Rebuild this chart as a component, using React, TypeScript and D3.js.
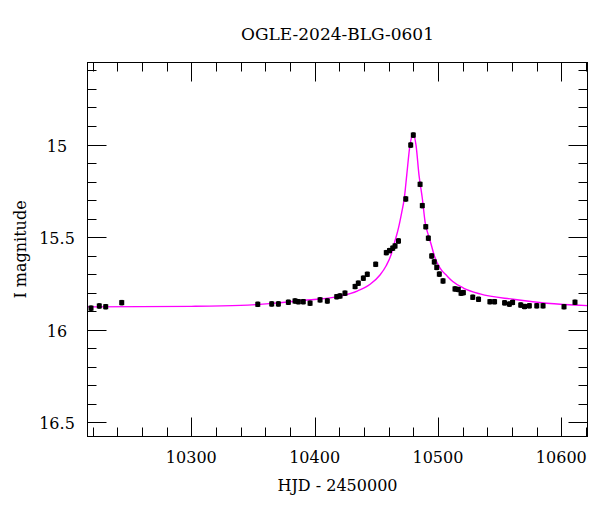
import React from "react";
import * as d3 from "d3";

// Observed photometry (HJD - 2450000, I mag)
const hjd = [
  10218.7, 10225.4, 10230.6, 10243.6, 10353.9, 10365.2, 10370.6, 10378.7, 10384.1, 10386.8,
  10390.8, 10396.3, 10404.4, 10410.3, 10417.9, 10420.6, 10424.6, 10432.8, 10435.4, 10439.5,
  10442.7, 10449.5, 10458.1, 10460.7, 10463.3, 10465.2, 10468.0, 10473.9, 10477.9, 10480.0,
  10485.5, 10487.3, 10490.1, 10492.2, 10494.9, 10497.0, 10499.0, 10501.1, 10504.1, 10513.8,
  10516.5, 10518.7, 10520.6, 10528.2, 10532.9, 10542.1, 10545.9, 10554.0, 10557.9, 10560.5,
  10567.1, 10570.2, 10574.1, 10580.1, 10585.2, 10602.2, 10611.1,
];
const mag = [
  15.884, 15.872, 15.876, 15.854, 15.863, 15.861, 15.861, 15.852, 15.845, 15.849,
  15.849, 15.857, 15.839, 15.845, 15.822, 15.818, 15.803, 15.767, 15.749, 15.722,
  15.701, 15.647, 15.584, 15.573, 15.560, 15.548, 15.521, 15.294, 15.003, 14.949,
  15.215, 15.330, 15.444, 15.506, 15.602, 15.634, 15.664, 15.700, 15.737, 15.780,
  15.783, 15.803, 15.800, 15.825, 15.836, 15.849, 15.849, 15.855, 15.862, 15.853,
  15.867, 15.875, 15.871, 15.871, 15.871, 15.876, 15.852,
];
const magErr = 0.012;

// Model curve
const modelHjd = [
  10215.8, 10300, 10340, 10366, 10394, 10420, 10435, 10445, 10453, 10458,
  10462, 10465, 10468, 10470.5, 10472.7, 10474.7, 10477.3, 10480, 10482.2, 10484.6,
  10487.3, 10489.6, 10492.2, 10494.5, 10497, 10501.7, 10507.4, 10512, 10520.6, 10534.1,
  10561, 10588, 10621.2,
];
const modelMag = [
  15.877, 15.874, 15.869, 15.858, 15.840, 15.820, 15.790, 15.755, 15.705, 15.655,
  15.595, 15.525, 15.450, 15.370, 15.290, 15.164, 15.003, 14.945, 15.003, 15.164,
  15.290, 15.420, 15.490, 15.540, 15.600, 15.668, 15.710, 15.740, 15.775, 15.807,
  15.836, 15.857, 15.870,
];

const title = "OGLE-2024-BLG-0601";
const xLabel = "HJD - 2450000";
const yLabel = "I magnitude";
const xMajor = [10300, 10400, 10500, 10600];
const yMajor = [15, 15.5, 16, 16.5];

const W = 600;
const H = 512;
const L = 87.5, R = 587.5, T = 62.5, B = 436.5;
const FONT = "'DejaVu Serif', serif";

export default function App() {
  const x = d3.scaleLinear().domain([10215.84, 10621.24]).range([L, R]);
  const y = d3.scaleLinear().domain([14.557, 16.577]).range([T, B]);

  const xMinor = d3.range(10220, 10621, 20);
  const yMinor = d3.range(146, 166, 1).map((v) => v / 10);

  const line = d3
    .line<number>()
    .x((_, i) => x(modelHjd[i]))
    .y((_, i) => y(modelMag[i]))
    .curve(d3.curveMonotoneX);

  const isMajorX = (v: number) => Math.abs(v % 100) < 1e-6;
  const isMajorY = (v: number) => Math.abs(v * 2 - Math.round(v * 2)) < 1e-6;
  const major = 19, minor = 9;

  return (
    <svg
      width={W}
      height={H}
      style={{ position: "absolute", left: 0, top: 0, background: "#fff" }}
      fontFamily={FONT}
    >
      <rect x={0} y={0} width={W} height={H} fill="#fff" />
      <defs>
        <clipPath id="plotclip">
          <rect x={L} y={T} width={R - L} height={B - T} />
        </clipPath>
      </defs>
      {/* ticks */}
      <g stroke="#000" strokeWidth={1}>
        {xMinor.map((v) => {
          const px = Math.round(x(v)) + 0.5;
          const len = isMajorX(v) ? major : minor;
          return (
            <g key={"xt" + v}>
              <line x1={px} x2={px} y1={B} y2={B - len} />
              <line x1={px} x2={px} y1={T} y2={T + len} />
            </g>
          );
        })}
        {yMinor.map((v) => {
          const py = Math.round(y(v)) + 0.5;
          const len = isMajorY(v) ? major : minor;
          return (
            <g key={"yt" + v}>
              <line x1={L} x2={L + len} y1={py} y2={py} />
              <line x1={R} x2={R - len} y1={py} y2={py} />
            </g>
          );
        })}
      </g>
      {/* model */}
      <path
        d={line(modelHjd) || ""}
        fill="none"
        stroke="#ff00ff"
        strokeWidth={1.4}
        clipPath="url(#plotclip)"
      />
      {/* data */}
      <g clipPath="url(#plotclip)">
        {hjd.map((t, i) => {
          const px = x(t);
          const py = y(mag[i]);
          const e1 = y(mag[i] - magErr);
          const e2 = y(mag[i] + magErr);
          return (
            <g key={"p" + i}>
              <line x1={px} x2={px} y1={e1} y2={e2} stroke="#000" strokeWidth={1} />
              <line x1={px - 1.5} x2={px + 1.5} y1={e1} y2={e1} stroke="#000" strokeWidth={1} />
              <line x1={px - 1.5} x2={px + 1.5} y1={e2} y2={e2} stroke="#000" strokeWidth={1} />
              <rect x={px - 2.5} y={py - 2.5} width={5} height={5} fill="#000" />
            </g>
          );
        })}
      </g>
      {/* frame */}
      <rect x={L} y={T} width={R - L} height={B - T} fill="none" stroke="#000" strokeWidth={1} />
      {/* tick labels */}
      <g fontSize={16} fill="#000">
        {xMajor.map((v) => (
          <text key={"xl" + v} x={x(v)} y={463} textAnchor="middle">
            {v}
          </text>
        ))}
        {yMajor.map((v) => (
          <text key={"yl" + v} x={57} y={y(v) + 7} textAnchor="middle">
            {v}
          </text>
        ))}
      </g>
      <text x={(L + R) / 2} y={491} textAnchor="middle" fontSize={16} fill="#000">
        {xLabel}
      </text>
      <text
        transform={`translate(26, ${(T + B) / 2}) rotate(-90)`}
        textAnchor="middle"
        fontSize={16}
        fill="#000"
      >
        {yLabel}
      </text>
      <text x={(L + R) / 2} y={39.5} textAnchor="middle" fontSize={17} fill="#000">
        {title}
      </text>
    </svg>
  );
}
